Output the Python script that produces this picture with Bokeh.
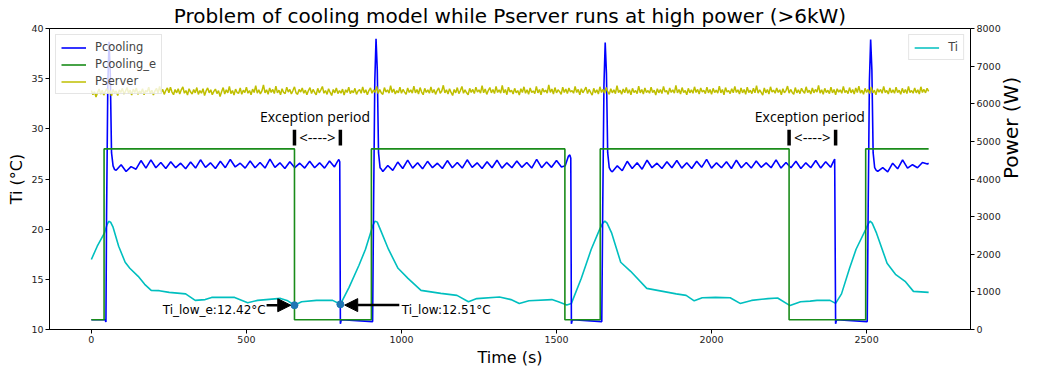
import numpy as np
from bokeh.plotting import figure
from bokeh.models import (Range1d, LinearAxis, Legend, LegendItem, Label, Arrow,
                          NormalHead, FixedTicker)
from bokeh.embed import file_html
from bokeh.resources import INLINE

# ---------------- data ----------------
title_text = "Problem of cooling model while Pserver runs at high power (>6kW)"
x_label = "Time (s)"
left_label = "Ti (°C)"
right_label = "Power (W)"

# indoor temperature Ti (left axis, degC)
ti_time = [0, 19, 42, 50, 56, 62, 70, 88, 109, 124, 151, 172, 193, 219, 251, 304, 335, 367, 388,
           462, 504, 536, 610, 631, 655, 678, 726, 778, 803, 831, 863, 884, 908, 915, 922, 934, 958,
           989, 1021, 1063, 1127, 1179, 1216, 1243, 1316, 1353, 1380, 1411, 1485, 1506,
           1533, 1548, 1580, 1612, 1638, 1649, 1656, 1663, 1678, 1707, 1739, 1791, 1886, 1918, 1944,
           1970, 2013, 2060, 2092, 2129, 2182, 2213, 2253, 2287, 2318, 2340, 2382, 2400,
           2419, 2445, 2466, 2496, 2505, 2511, 2518, 2532, 2566, 2593, 2624, 2651, 2700]
ti_value = [16.98, 18.3, 19.6, 20.4, 20.78, 20.7, 20.2, 18.3, 16.7, 16.1, 15.3, 14.5, 13.9, 13.87, 13.7,
            13.55, 12.9, 12.98, 13.2, 13.2, 12.67, 12.9, 13.1, 12.9, 12.42, 12.76, 12.9,
            12.9, 12.51, 14.2, 16.4, 18.0, 20.4, 20.8, 20.7, 19.8, 18.0, 16.1, 15.1, 13.9, 13.6, 13.4,
            12.76, 13.08, 13.24, 12.98, 12.6, 12.86, 12.98, 12.76, 12.45, 12.6, 15.1, 18.0,
            19.9, 20.6, 20.8, 20.6, 19.6, 16.7, 15.8, 14.1, 13.55, 13.4, 12.86, 13.17, 13.2, 13.17,
            12.6, 12.9, 13.08, 13.14, 12.38, 12.76, 12.83, 12.9, 12.9, 12.6, 13.55, 16.1,
            18.0, 19.9, 20.5, 20.8, 20.6, 19.6, 16.6, 15.5, 14.8, 13.8, 13.7]

# server power (right axis, W), one value every 5 s
pserver_step = 5
pserver = [
    6350, 6240, 6320, 6180, 6300, 6390, 6260, 6360, 6230, 6330, 6400, 6270, 6350, 6210, 6380, 6290, 6340, 6220, 6370, 6300,
    6410, 6260, 6330, 6430, 6280, 6360, 6230, 6390, 6300, 6420, 6250, 6340, 6280, 6400, 6240, 6350, 6310, 6440, 6270, 6360,
    6230, 6340, 6410, 6280, 6460, 6300, 6380, 6250, 6350, 6420, 6290, 6440, 6310, 6240, 6380, 6290, 6400, 6260, 6370, 6450,
    6280, 6350, 6230, 6400, 6310, 6260, 6380, 6290, 6430, 6250, 6350, 6280, 6400, 6220, 6340, 6420, 6290, 6370, 6240, 6330,
    6390, 6270, 6350, 6190, 6320, 6430, 6260, 6370, 6290, 6460, 6270, 6350, 6230, 6390, 6300, 6280, 6420, 6250, 6360, 6300,
    6440, 6280, 6350, 6240, 6390, 6300, 6480, 6280, 6370, 6260, 6340, 6500, 6290, 6370, 6250, 6420, 6300, 6380, 6270, 6470,
    6290, 6360, 6240, 6400, 6300, 6270, 6440, 6310, 6380, 6260, 6350, 6450, 6290, 6250, 6380, 6310, 6420, 6280, 6360, 6240,
    6350, 6430, 6270, 6380, 6300, 6240, 6410, 6290, 6370, 6460, 6280, 6350, 6250, 6400, 6300, 6220, 6380, 6290, 6420, 6270,
    6350, 6280, 6390, 6230, 6370, 6300, 6440, 6270, 6350, 6290, 6410, 6250, 6340, 6380, 6280, 6450, 6290, 6370, 6240, 6350,
    6420, 6280, 6370, 6300, 6460, 6270, 6380, 6290, 6250, 6430, 6310, 6370, 6280, 6480, 6300, 6390, 6260, 6350, 6290, 6440,
    6280, 6380, 6310, 6250, 6420, 6300, 6370, 6280, 6470, 6290, 6380, 6260, 6430, 6310, 6240, 6410, 6300, 6370, 6280, 6450,
    6290, 6380, 6250, 6350, 6420, 6280, 6340, 6490, 6290, 6370, 6260, 6400, 6300, 6220, 6380, 6290, 6430, 6270, 6350, 6460,
    6280, 6370, 6290, 6240, 6410, 6300, 6380, 6270, 6440, 6310, 6370, 6280, 6480, 6290, 6390, 6250, 6350, 6430, 6290, 6380,
    6270, 6460, 6300, 6370, 6280, 6490, 6290, 6380, 6240, 6440, 6310, 6360, 6260, 6410, 6290, 6350, 6230, 6400, 6300, 6450,
    6280, 6370, 6250, 6420, 6300, 6340, 6270, 6460, 6290, 6380, 6240, 6410, 6310, 6360, 6280, 6500, 6300, 6390, 6260, 6430,
    6290, 6370, 6320, 6250, 6440, 6300, 6390, 6270, 6420, 6310, 6350, 6280, 6460, 6300, 6380, 6240, 6400, 6290, 6360, 6440,
    6270, 6380, 6300, 6230, 6410, 6290, 6370, 6260, 6450, 6300, 6380, 6280, 6430, 6320, 6250, 6400, 6290, 6370, 6270, 6480,
    6300, 6360, 6250, 6390, 6290, 6430, 6280, 6370, 6240, 6410, 6300, 6350, 6270, 6470, 6290, 6380, 6260, 6420, 6300, 6350,
    6280, 6440, 6300, 6360, 6230, 6400, 6290, 6380, 6270, 6460, 6310, 6350, 6250, 6420, 6300, 6370, 6280, 6490, 6290, 6380,
    6260, 6430, 6300, 6350, 6240, 6410, 6290, 6370, 6280, 6450, 6300, 6380, 6260, 6420, 6310, 6360, 6270, 6440, 6290, 6380,
    6250, 6410, 6300, 6360, 6280, 6470, 6290, 6380, 6240, 6430, 6310, 6350, 6270, 6400, 6290, 6460, 6300, 6370, 6260, 6420,
    6290, 6380, 6250, 6440, 6300, 6360, 6270, 6410, 6290, 6480, 6280, 6370, 6300, 6230, 6420, 6290, 6380, 6260, 6450, 6310,
    6360, 6280, 6420, 6300, 6370, 6240, 6400, 6290, 6350, 6470, 6280, 6380, 6300, 6250, 6430, 6290, 6370, 6270, 6410, 6330,
    6280, 6450, 6300, 6360, 6260, 6420, 6290, 6380, 6310, 6490, 6280, 6370, 6250, 6410, 6300, 6360, 6270, 6440, 6290, 6380,
    6240, 6400, 6310, 6370, 6280, 6460, 6300, 6350, 6270, 6430, 6290, 6380, 6260, 6420, 6300, 6470, 6280, 6360, 6250, 6410,
    6300, 6380, 6270, 6450, 6290, 6360, 6240, 6400, 6310, 6380, 6280, 6460, 6300, 6350, 6260, 6420, 6290, 6370, 6280, 6440,
    6300, 6360, 6250, 6410, 6290, 6380, 6270, 6460, 6300, 6350, 6280, 6420, 6290, 6370, 6260, 6450, 6300, 6380, 6290, 6410,
    6330]

# expected cooling power Pcooling_e (step signal, W)
pcool_e_time = [0, 41, 41, 655, 655, 903, 903, 1527, 1527, 1641, 1641, 2250, 2250, 2497, 2497, 2700]
pcool_e = [260, 260, 4800, 4800, 260, 260, 4800, 4800, 260, 260, 4800, 4800, 260, 260, 4800, 4800]

# actual cooling power Pcooling (W): transitions + oscillating plateaus (16 s step)
pc_start_time = [0, 44, 47, 49, 53, 57, 61, 65, 70, 75]
pc_start = [260, 260, 200, 3000, 6500, 7650, 6800, 4700, 4350, 4250]
osc_step = 16
osc1_start = 80
osc1 = [4230, 4380, 4200, 4330, 4260, 4490, 4290, 4510, 4300, 4440,
        4280, 4460, 4300, 4420, 4270, 4450, 4290, 4510, 4310, 4430,
        4280, 4470, 4300, 4520, 4320, 4420, 4290, 4480, 4300, 4440,
        4290, 4530, 4310, 4430, 4280, 4460, 4300, 4420, 4290, 4470,
        4300, 4430, 4290, 4480, 4320]
pc_cycle1_time = [792, 798, 801, 803, 806, 907, 910, 914, 918, 922, 926, 931, 936]
pc_cycle1 = [4440, 4520, 4460, 150, 260, 210, 3200, 6600, 7730, 6900, 4700, 4300, 4250]
osc2_start = 940
osc2 = [4200, 4360, 4230, 4450, 4280, 4500, 4290, 4430, 4270, 4470,
        4300, 4420, 4280, 4490, 4300, 4440, 4290, 4510, 4310, 4430,
        4280, 4460, 4300, 4500, 4290, 4430, 4300, 4480, 4310, 4440,
        4290, 4520, 4300, 4450, 4310, 4490, 4320]
pc_cycle2_time = [1528, 1538, 1543, 1546, 1548, 1551, 1646, 1649, 1653, 1657, 1661, 1665, 1670, 1675]
pc_cycle2 = [4350, 4600, 4640, 4550, 150, 260, 210, 3200, 6500, 7630, 6800, 4700, 4300, 4220]
osc3_start = 1680
osc3 = [4190, 4350, 4220, 4470, 4280, 4430, 4260, 4500, 4300, 4420,
        4280, 4460, 4300, 4490, 4290, 4430, 4280, 4470, 4310, 4520,
        4290, 4430, 4300, 4460, 4280, 4500, 4300, 4440, 4290, 4480,
        4310, 4430, 4300, 4510, 4290, 4440, 4300, 4470, 4280, 4430,
        4300, 4490, 4290, 4460, 4310]
pc_cycle3_time = [2392, 2397, 2400, 2403, 2502, 2505, 2509, 2513, 2517, 2521, 2526, 2531]
pc_cycle3 = [4450, 4530, 150, 260, 210, 3200, 6600, 7710, 6900, 4700, 4300, 4230]
osc4_start = 2536
osc4 = [4200, 4300, 4190, 4420, 4270, 4510, 4290, 4380, 4300, 4440, 4400]
pc_end_time = [2700]
pc_end = [4420]

# annotations
low_labels = ["Ti_low_e:12.42°C", "Ti_low:12.51°C"]
low_time = [655, 803]
low_ti = [12.42, 12.51]
exception_start = [655, 2250]
exception_end = [803, 2400]

x_ticks = [0, 500, 1000, 1500, 2000, 2500]
ti_ticks = [10, 15, 20, 25, 30, 35, 40]
power_ticks = [0, 1000, 2000, 3000, 4000, 5000, 6000, 7000, 8000]

# ---------------- assemble series ----------------
def osc_times(start, n):
    return [start + osc_step * k for k in range(n)]

pcool_time = (pc_start_time + osc_times(osc1_start, len(osc1)) + pc_cycle1_time +
              osc_times(osc2_start, len(osc2)) + pc_cycle2_time +
              osc_times(osc3_start, len(osc3)) + pc_cycle3_time +
              osc_times(osc4_start, len(osc4)) + pc_end_time)
pcool = (pc_start + osc1 + pc_cycle1 + osc2 + pc_cycle2 + osc3 + pc_cycle3 + osc4 + pc_end)
pserver_time = [pserver_step * k for k in range(len(pserver))]

FONT = "DejaVu Sans"

p = figure(width=1037, height=369, output_backend="svg", toolbar_location=None,
           x_range=Range1d(-135, 2835), y_range=Range1d(10, 40),
           min_border_left=49, min_border_right=0, min_border_top=0, min_border_bottom=0,
           title=title_text)
p.extra_y_ranges = {"power": Range1d(0, 8000)}
p.background_fill_color = "white"
p.border_fill_color = "white"
p.outline_line_color = "black"
p.outline_line_width = 1
p.xgrid.visible = False
p.ygrid.visible = False

p.title.text_font = FONT
p.title.text_font_size = "20px"
p.title.text_font_style = "normal"
p.title.text_color = "black"
p.title.align = "center"
p.title.standoff = 2

right_axis = LinearAxis(y_range_name="power", axis_label=right_label)
p.add_layout(right_axis, "right")

p.xaxis.ticker = FixedTicker(ticks=x_ticks)
p.yaxis[0].ticker = FixedTicker(ticks=ti_ticks)
right_axis.ticker = FixedTicker(ticks=power_ticks)
p.xaxis.axis_label = x_label
p.yaxis[0].axis_label = left_label

for ax in [p.xaxis[0], p.yaxis[0], right_axis]:
    ax.axis_line_color = "black"
    ax.major_tick_line_color = "black"
    ax.major_tick_in = 0
    ax.major_tick_out = 4
    ax.minor_tick_line_color = None
    ax.major_label_text_font = FONT
    ax.major_label_text_font_size = "9.5px"
    ax.major_label_text_color = "#222222"
    ax.major_label_standoff = 2
    ax.axis_label_text_font = FONT
    ax.axis_label_text_font_style = "normal"
    ax.axis_label_text_color = "black"
    ax.axis_label_standoff = 2
p.xaxis.axis_label_text_font_size = "16px"
p.yaxis[0].axis_label_text_font_size = "16px"
right_axis.axis_label_text_font_size = "20px"
right_axis.axis_label_orientation = np.pi / 2
right_axis.axis_label_standoff = 7

# ---------------- glyphs ----------------
r_ti = p.line(ti_time, ti_value, line_color="#00bfbf", line_width=1.6)
r_pc = p.line(pcool_time, pcool, line_color="#0000ff", line_width=1.6, y_range_name="power")
r_pce = p.line(pcool_e_time, pcool_e, line_color="#1a8c1a", line_width=1.6, y_range_name="power")
r_ps = p.line(pserver_time, pserver, line_color="#bfbf00", line_width=1.5, y_range_name="power")

p.scatter(low_time, low_ti, size=7, color="#1f77b4")

# low-temperature annotations
p.add_layout(Arrow(end=NormalHead(size=13, fill_color="black", line_color="black"),
                   x_start=low_time[0] - 90, y_start=low_ti[0],
                   x_end=low_time[0] - 12, y_end=low_ti[0],
                   line_color="black", line_width=2.5))
p.add_layout(Label(x=low_time[0] - 93, y=low_ti[0] - 0.5, text=low_labels[0],
                   text_align="right", text_baseline="middle",
                   text_font=FONT, text_font_size="12px", text_color="black"))
p.add_layout(Arrow(end=NormalHead(size=13, fill_color="black", line_color="black"),
                   x_start=low_time[1] + 190, y_start=low_ti[1] - 0.08,
                   x_end=low_time[1] + 14, y_end=low_ti[1] - 0.08,
                   line_color="black", line_width=2.5))
p.add_layout(Label(x=low_time[1] + 198, y=low_ti[1] - 0.58, text=low_labels[1],
                   text_align="left", text_baseline="middle",
                   text_font=FONT, text_font_size="12px", text_color="black"))

# exception periods
for s, e in zip(exception_start, exception_end):
    p.segment(x0=[s, e], y0=[28.35, 28.35], x1=[s, e], y1=[29.9, 29.9],
              line_color="black", line_width=3.5)
    mid = (s + e) / 2
    p.add_layout(Label(x=mid, y=29.15, text="<---->", text_align="center",
                       text_baseline="middle", text_font="Open Sans",
                       text_font_size="15px", text_color="black"))
    p.add_layout(Label(x=mid - 8, y=31.2, text="Exception period", text_align="center",
                       text_baseline="middle", text_font="Open Sans",
                       text_font_size="14px", text_color="black"))

# ---------------- legends ----------------
def style_legend(lg):
    lg.label_text_font = FONT
    lg.label_text_font_size = "11.5px"
    lg.glyph_width = 25
    lg.glyph_height = 11
    lg.label_height = 11
    lg.label_width = 8
    lg.label_standoff = 9
    lg.spacing = 3
    lg.padding = 5
    lg.margin = 6
    lg.border_line_color = "#cccccc"
    lg.border_line_width = 1
    lg.background_fill_color = "white"
    lg.background_fill_alpha = 0.8

leg_power = Legend(items=[LegendItem(label="Pcooling", renderers=[r_pc]),
                          LegendItem(label="Pcooling_e", renderers=[r_pce]),
                          LegendItem(label="Pserver", renderers=[r_ps])],
                   location="top_left")
leg_ti = Legend(items=[LegendItem(label="Ti", renderers=[r_ti])], location="top_right")
style_legend(leg_power)
style_legend(leg_ti)
p.add_layout(leg_ti)
p.add_layout(leg_power)

open("out.html", "w").write(file_html(p, INLINE))
